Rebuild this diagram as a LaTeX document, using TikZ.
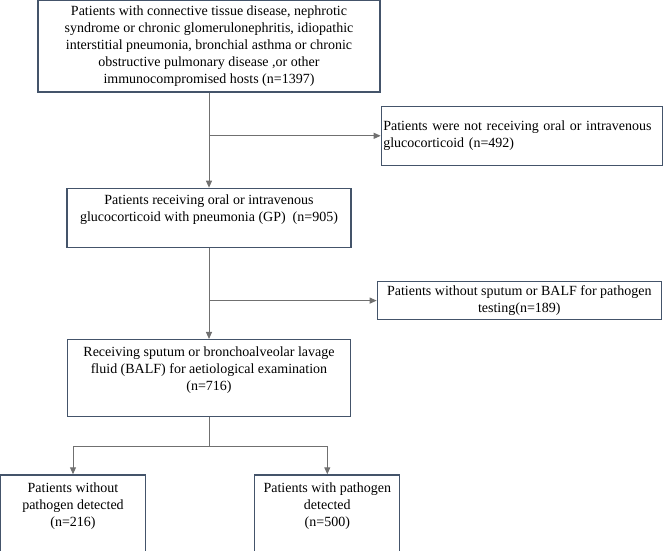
\documentclass[tikz,border=0pt]{standalone}
\usepackage{fontspec}
\setmainfont{Liberation Serif}
\usepackage{tikz}
\usetikzlibrary{shapes,arrows.meta}
\usetikzlibrary{positioning}
\definecolor{boxblue}{RGB}{68,84,106}
\definecolor{arrowgray}{RGB}{112,112,112}
\tikzstyle{arrow} = [-{Triangle[length=7pt,width=6pt]}, draw=arrowgray, line width=1pt]
\tikzstyle{line} = [draw=arrowgray, line width=1pt]
\tikzstyle{process} = [rectangle, draw=boxblue, line width=1.3pt, text=black,
   align=center, inner sep=2pt]
\newcommand{\lift}{\rule[-19pt]{0pt}{19pt}}

\begin{document}
\begin{tikzpicture}[x=1pt, y=-1pt, every node/.style={font=\fontsize{14}{17}\selectfont}]
\useasboundingbox (0,0) rectangle (669,550);

\node (start) [process, minimum width=342pt, minimum height=92pt] at (209,46) {Patients with connective tissue disease, nephrotic\\
syndrome or chronic glomerulonephritis, idiopathic\\
interstitial pneumonia, bronchial asthma or chronic\\
obstructive pulmonary disease ,or other\\
immunocompromised hosts (n=1397)};

\node (excl1) [process, text width=277pt, align=left, minimum height=59pt, below right=13pt and 0pt of start.south east] {Patients were not receiving oral or intravenous\\
glucocorticoid (n=492)};

\node (gp) [process, minimum width=284pt, minimum height=59pt, below=95pt of start] {Patients receiving oral or intravenous\\
glucocorticoid with pneumonia (GP)~ (n=905)\lift};

\draw [arrow] (start) -- (gp);
\draw [arrow] (excl1.west -| start.south) -- (excl1.west);

\node (excl2) [process, minimum width=284pt, minimum height=38pt, below right=33pt and 25pt of gp.south east] {Patients without sputum or BALF for pathogen\\
testing(n=189)};

\node (balf) [process, minimum width=283pt, minimum height=77pt, below=91pt of gp] {Receiving sputum or bronchoalveolar lavage\\
fluid (BALF) for aetiological examination\\
(n=716)\lift};

\draw [arrow] (gp) -- (balf);
\draw [arrow] (excl2.west -| gp.south) -- (excl2.west);

\node (neg) [process, minimum width=145pt, minimum height=78pt, below=57pt of balf, xshift=-136pt] {Patients without\\
pathogen detected\\
(n=216)\lift};

\node (pos) [process, minimum width=145pt, minimum height=78pt, right=108pt of neg] {Patients with pathogen\\
detected\\
(n=500)\lift};

\coordinate [below=29pt of balf.south] (split);
\draw [line] (balf) -- (split);
\draw [arrow] (split) -| (neg.north);
\draw [arrow] (split) -| (pos.north);

\end{tikzpicture}
\end{document}
